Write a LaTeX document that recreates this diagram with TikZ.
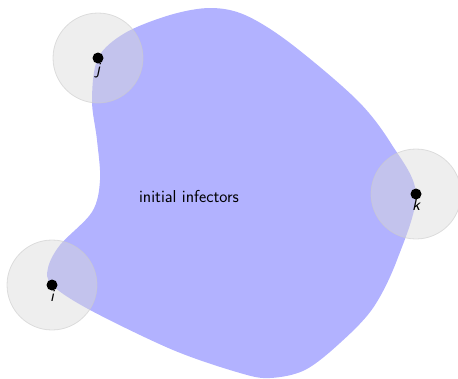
\documentclass[tikz,border=0pt]{standalone}
\usepackage{tikz}
\begin{document}
\begin{tikzpicture}[x=1pt,y=-1pt,
  zone/.style={draw=gray!40,fill=gray!30,fill opacity=0.45,draw opacity=0.6,line width=0.8pt},
  agent/.style={circle,fill=black,inner sep=0pt,minimum size=11pt},
  lbl/.style={font=\sffamily\itshape\LARGE,inner sep=0pt,anchor=north}]
\useasboundingbox (0,0) rectangle (458,378);
% region of initial infectors
\fill[blue!30] plot[smooth cycle,tension=0.55] coordinates {
  (98,58) (125,33) (170,15) (210,8) (245,15) (290,43) (357,100) (392,145)
  (416,194) (397,260) (373,308) (340,343) (305,370) (270,378) (240,373)
  (173,350) (90,310) (52,285) (48,268) (60,245) (92,212) (100,180)
  (97,140) (92,100)};
\node[font=\sffamily\LARGE] (txt) at (189,196) {initial infectors};
% neighbourhoods
\coordinate (j) at (98,58);
\coordinate (i) at (52,285);
\coordinate (k) at (416,194);
\draw[zone] (j) circle[radius=45];
\draw[zone] (i) circle[radius=45];
\draw[zone] (k) circle[radius=45];
\node[agent] (jd) at (j) {};
\node[agent] (id) at (i) {};
\node[agent] (kd) at (k) {};
\node[lbl] (jl) at ([yshift=1pt]jd.south) {j};
\node[lbl] (il) at ([yshift=1pt]id.south) {i};
\node[lbl] (kl) at ([yshift=1pt]kd.south) {k};
\end{tikzpicture}
\end{document}
